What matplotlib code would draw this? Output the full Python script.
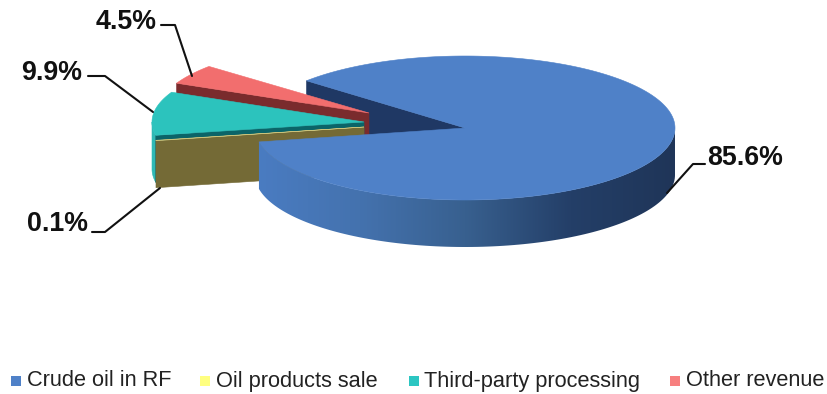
import numpy as np
import matplotlib
matplotlib.use("Agg")
import matplotlib.pyplot as plt
from matplotlib.colors import LinearSegmentedColormap
from matplotlib.patches import Polygon, Rectangle

categories = ["Crude oil in RF", "Oil products sale", "Third-party processing", "Other revenue"]
shares = [85.6, 0.1, 9.9, 4.5]
value_labels = ["85.6%", "0.1%", "9.9%", "4.5%"]

plt.rcParams['font.family'] = ['Liberation Sans', 'DejaVu Sans']

RX, RY, DEPTH = 212, 71, 47
START = 139

# pixels, y going down
apex = [(465, 128), (364, 127), (364, 122), (369, 113)]
top_col = ['#4f81c8', '#c9c27a', '#2cc3bd', '#f26e6e']
cut_col = ['#1f3864', '#746a36', '#0b6468', '#7a2b2d']
legend_col = ['#4f81c8', '#ffff80', '#2cc6c2', '#f77f7f']
legend_x = [11, 200, 409, 670]
text_x = [27, 216, 424, 686]


def arc(c, a0, a1, n=120, rx=RX, ry=RY):
    t = np.radians(np.linspace(a0, a1, n))
    return np.column_stack([c[0] + rx*np.cos(t), c[1] - ry*np.sin(t)])


def poly(ax, pts, color, z):
    p = Polygon(pts, closed=True, fc=color, ec=color, lw=0.4, zorder=z)
    ax.add_patch(p)
    return p


fig = plt.figure(figsize=(8.28, 3.94), dpi=100)
ax = fig.add_axes([0, 0, 1, 1])

# clockwise angles for each slice
ends = START - np.cumsum(shares) / sum(shares) * 360
starts = np.concatenate([[START], ends[:-1]])
down = np.array([0, DEPTH])

# main slice back cut face
c = apex[0]
p0 = arc(c, starts[0], starts[0], 1, 210, 72)[0]
poly(ax, [p0, c, np.array(c)+down, p0+down], cut_col[0], 1)

# other revenue
c = apex[3]
p1 = arc(c, starts[3], starts[3], 1)[0]
poly(ax, [p1, c, np.array(c)+down, p1+down], cut_col[3], 2)
poly(ax, np.vstack([[c], arc(c, starts[3], ends[3])]), top_col[3], 3)

# third party: arc wall, top, cut face
c = apex[2]
a = arc(c, 180, starts[2] + 360, 30)
poly(ax, np.vstack([a, (a+down)[::-1]]), '#2fb9b5', 4)
p1 = arc(c, starts[2], starts[2], 1)[0]
poly(ax, [p1, c, np.array(c)+down, p1+down], cut_col[2], 5)
poly(ax, np.vstack([[c], arc(c, starts[2], ends[2])]), top_col[2], 6)

# oil products, almost nothing but its cut face shows
c = apex[1]
p1 = arc(c, starts[1], starts[1], 1)[0]
poly(ax, [p1, c, np.array(c)+down, p1+down], cut_col[1], 7)
poly(ax, np.vstack([[c], arc(c, starts[1], ends[1], 5)]), top_col[1], 8)

# main slice wall with the dark gradient
c = apex[0]
a = arc(c, ends[0] + 360, 360, 120, 210, 72)
wall = Polygon(np.vstack([a, (a+down)[::-1]]), closed=True, transform=ax.transData, fc='none', ec='none')
ax.add_patch(wall)
cmap = LinearSegmentedColormap.from_list('wall', ['#4a7cc2', '#4472ae', '#38608f', '#243f68', '#1f3558'])
im = ax.imshow(np.linspace(0, 1, 256).reshape(1, -1), cmap=cmap, aspect='auto',
               extent=(255, 676, 250, 100), zorder=9)
im.set_clip_path(wall)
poly(ax, np.vstack([[c], arc(c, starts[0], ends[0], 300, 210, 72)]), top_col[0], 10)

# leader lines and percent labels
leaders = [[(667, 193), (693, 164), (705, 164)],
           [(160, 188), (105, 232), (92, 232)],
           [(153, 112), (105, 76), (88, 76)],
           [(192, 76), (175, 25), (161, 25)]]
label_pos = [(707, 158), (27, 224), (21, 73), (96, 22)]
for line, pos, txt in zip(leaders, label_pos, value_labels):
    xs, ys = zip(*line)
    ax.plot(xs, ys, color='#111111', lw=1.5, zorder=11, solid_capstyle='round')
    ax.text(pos[0], pos[1], txt, fontsize=19.3, fontweight='bold', color='#111111',
            va='center', ha='left', zorder=12)

# legend
for name, col, lx, tx in zip(categories, legend_col, legend_x, text_x):
    ax.add_patch(Rectangle((lx, 376), 10, 10, fc=col, ec='none'))
    ax.text(tx, 381, name, fontsize=15.7, color='#222222', va='center', ha='left')

ax.set_xlim(0, 828)
ax.set_ylim(394, 0)
ax.axis('off')
fig.savefig('out.png', dpi=100)
